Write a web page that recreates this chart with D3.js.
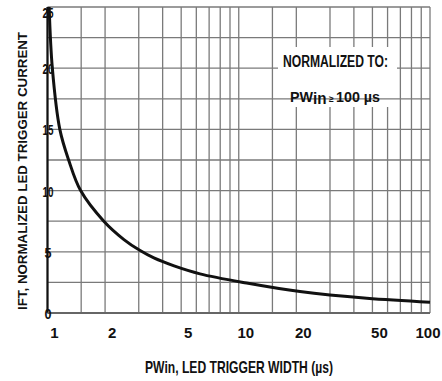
<!DOCTYPE html>
<html><head><meta charset="utf-8">
<script src="https://cdn.jsdelivr.net/npm/d3@7"></script>
<style>
html,body{margin:0;padding:0;background:#fff;}
svg{display:block;}
text{font-family:"Liberation Sans Narrow","Liberation Sans",Arial,sans-serif;fill:#111;}
</style></head>
<body>
<svg id="c" width="442" height="381"></svg>
<script>
// ---- data ----
const pwIn = [1.02, 1.06, 1.16, 1.29, 1.49, 1.97, 2.51, 3.05, 3.6, 4.59, 6.27, 11, 20.9, 46.7, 100];
const iftNorm = [25, 20, 15, 12.5, 10, 7.5, 6.0, 5.1, 4.5, 3.85, 3.2, 2.45, 1.75, 1.2, 0.88];
const xGrid = [1, 1.5, 2, 3, 4, 5, 6, 7, 8, 9, 10, 15, 20, 30, 40, 50, 60, 70, 80, 90, 100];
const xTickLabels = [1, 2, 5, 10, 20, 50, 100];
const yGrid = [0, 2.5, 5, 7.5, 10, 12.5, 15, 17.5, 20, 22.5, 25];
const yTickLabels = [0, 5, 10, 15, 20, 25];
const xTitle = "PWin, LED TRIGGER WIDTH (µs)";
const yTitle = "IFT, NORMALIZED LED TRIGGER CURRENT";

// ---- layout ----
const L = 47.5, R = 430, T = 7, B = 313;
const svg = d3.select("#c");
const x = d3.scaleLog().domain([1, 100]).range([L, R]);
const y = d3.scaleLinear().domain([0, 25]).range([B, T]);
const gridCol = "#7a7a7a";

// vertical grid
svg.append("g").selectAll("line").data(xGrid).join("line")
  .attr("x1", d => x(d)).attr("x2", d => x(d)).attr("y1", T).attr("y2", B)
  .attr("stroke", gridCol).attr("stroke-width", 1.3);

// partial mask (vertical lines only)
svg.append("rect").attr("x", 278).attr("y", 47).attr("width", 119).attr("height", 60).attr("fill", "#fff");

// horizontal grid
svg.append("g").selectAll("line").data(yGrid).join("line")
  .attr("x1", L).attr("x2", R).attr("y1", d => y(d)).attr("y2", d => y(d))
  .attr("stroke", gridCol).attr("stroke-width", 1.3);

// mask behind note
svg.append("rect").attr("x", 278).attr("y", 47).attr("width", 119).attr("height", 42).attr("fill", "#fff");

// left axis
svg.append("line").attr("x1", L).attr("x2", L).attr("y1", T).attr("y2", B)
  .attr("stroke", "#111").attr("stroke-width", 2.2);
// bottom axis line
svg.append("line").attr("x1", L).attr("x2", R).attr("y1", B).attr("y2", B)
  .attr("stroke", "#666").attr("stroke-width", 2);

// curve
const line = d3.line().x((d, i) => x(pwIn[i])).y(d => y(d)).curve(d3.curveCatmullRom.alpha(0.5));
svg.append("path").datum(iftNorm).attr("d", line)
  .attr("fill", "none").attr("stroke", "#111").attr("stroke-width", 3);

// y tick labels
svg.append("g").selectAll("text").data(yTickLabels).join("text")
  .attr("x", L + 0.5)
  .attr("y", d => d === 25 ? y(d) + 11 : y(d) + 6)
  .attr("text-anchor", "middle")
  .attr("font-size", 15).attr("font-weight", "bold")
  .attr("textLength", d => d >= 10 ? 11 : 7).attr("lengthAdjust", "spacingAndGlyphs")
  .text(d => d);

// x tick labels
svg.append("g").selectAll("text").data(xTickLabels).join("text")
  .attr("x", d => x(d) + (d === 100 ? -2 : 7))
  .attr("y", 338)
  .attr("text-anchor", "middle")
  .attr("font-size", 15).attr("font-weight", "bold")
  .text(d => d);

// x title
svg.append("text").attr("x", 145).attr("y", 373)
  .attr("font-size", 17).attr("font-weight", "bold")
  .attr("textLength", 188).attr("lengthAdjust", "spacingAndGlyphs")
  .text(xTitle);

// y title
svg.append("text")
  .attr("transform", "translate(27,171) rotate(-90)")
  .attr("text-anchor", "middle")
  .attr("font-family", "'Liberation Sans',Arial,sans-serif")
  .attr("font-size", 12.5).attr("font-weight", "bold")
  .attr("textLength", 278).attr("lengthAdjust", "spacingAndGlyphs")
  .text(yTitle);

// note
svg.append("text").attr("x", 283).attr("y", 67)
  .attr("font-size", 16).attr("font-weight", "bold")
  .attr("textLength", 105).attr("lengthAdjust", "spacingAndGlyphs")
  .text("NORMALIZED TO:");
const nt = svg.append("text").attr("x", 290).attr("y", 102)
  .attr("font-size", 15).attr("font-weight", "bold")
  .attr("textLength", 90).attr("lengthAdjust", "spacingAndGlyphs");
nt.append("tspan").text("PW");
nt.append("tspan").attr("font-size", 16).attr("dy", 2).text("in");
nt.append("tspan").attr("font-size", 9).attr("dy", -2).text(" ≥ ");
nt.append("tspan").text("100 µs");
</script>
</body></html>
